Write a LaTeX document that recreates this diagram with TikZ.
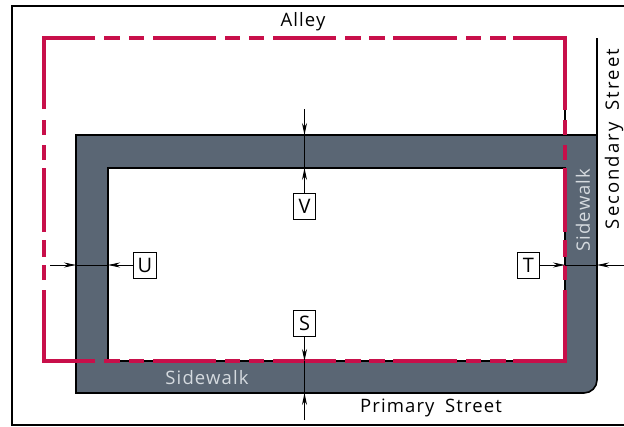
\documentclass[tikz,border=0pt]{standalone}
\usepackage{fontspec}
\setmainfont{Open Sans}[LetterSpace=6, WordSpace=1.8]
\usetikzlibrary{arrows.meta}
\definecolor{walkgray}{HTML}{5A6674}
\definecolor{linered}{HTML}{C80F4A}
\definecolor{walktext}{HTML}{D5DADF}
\tikzset{
  labelbox/.style={draw, line width=1pt, fill=white, minimum width=22.5pt, minimum height=26pt, inner sep=0pt, font=\fontsize{20}{20}\selectfont},
  outline/.style={line width=1.6pt},
  redline/.style={draw=linered, line width=3.8pt},
  dimline/.style={line width=0.9pt, >={Stealth[length=12pt,width=5pt]}},
  streetlabel/.style={font=\fontsize{18.5}{19}\selectfont},
}
\begin{document}
\begin{tikzpicture}[x=1pt, y=-1pt]
\useasboundingbox (0,0) rectangle (624,426);

% Frame
\draw[line width=1.8pt] (624,6) -- (12,6) -- (12,425) -- (624,425);

% Sidewalk
\fill[walkgray, rounded corners=13pt] (76,135) [sharp corners] -- (597,135) [rounded corners=13pt] -- (597,393) [sharp corners] -- (76,393) -- cycle;
\fill[white] (108,168) rectangle (565,361);
\draw[outline] (597,38) -- (597,135) [rounded corners=13pt] -- (597,393) [sharp corners] -- (76,393) -- (76,135) -- (597,135);
\draw[outline] (565,168) -- (108,168) -- (108,361) -- (565,361) -- cycle;
\draw[outline] (565,109) -- (565,121);

% Red line
\draw[redline, line join=miter] (95,38) -- (44,38) -- (44,109);
\draw[redline, line join=miter] (95,361) -- (44,361) -- (44,290);
\draw[redline, line join=miter] (513,38) -- (565,38) -- (565,110);
\draw[redline, line join=miter] (513,361) -- (565,361) -- (565,290);
\foreach \a/\b in {104/120, 129/144, 153/216, 225/240, 249/264, 273/336, 345/361, 369/385, 393/457, 466/481, 490/506} {
  \draw[redline] (\a,38) -- (\b,38);
  \draw[redline] (\a,361) -- (\b,361);
}
\foreach \a/\b in {120/135, 145/160, 168/232, 240/257, 265/280} {
  \draw[redline] (44,\a) -- (44,\b);
  \draw[redline] (565,\a) -- (565,\b);
}

% Labels
\node[labelbox] (V) at (304.5,206.5) {V};
\node[labelbox] (S) at (304.5,323) {S};
\node[labelbox] (U) at (145,265) {U};
\node[labelbox] (T) at (528.5,265) {T};
\node[streetlabel] (alley) at (303,22) {Alley};
\node[streetlabel] (primary) at (431,408) {Primary Street};
\node[streetlabel, rotate=90] (secondary) at (614,139) {\addfontfeature{LetterSpace=11}Secondary Street};
\node[streetlabel, text=walktext] (walkbottom) at (207,378) {Sidewalk};
\node[streetlabel, text=walktext, rotate=90] (walkright) at (583,210) {Sidewalk};

% Dimensions
\coordinate (vfree) at (304.5,109);
\coordinate (vouter) at (304.5,135);
\coordinate (vinner) at (304.5,168);
\coordinate (sfree) at (304.5,420);
\coordinate (souter) at (304.5,393);
\coordinate (sinner) at (304.5,361);
\coordinate (ufree) at (50,265);
\coordinate (uouter) at (76,265);
\coordinate (uinner) at (108,265);
\coordinate (tfree) at (624,265);
\coordinate (touter) at (597,265);
\coordinate (tinner) at (565,265);
\draw[dimline, ->] (vfree) -- (vouter);
\draw[dimline] (vouter) -- (vinner);
\draw[dimline, ->] (V) -- (vinner);
\draw[dimline, ->] (sfree) -- (souter);
\draw[dimline] (souter) -- (sinner);
\draw[dimline, ->] (S) -- (sinner);
\draw[dimline, ->] (ufree) -- (uouter);
\draw[dimline] (uouter) -- (uinner);
\draw[dimline, ->] (U) -- (uinner);
\draw[dimline, ->] (tfree) -- (touter);
\draw[dimline] (touter) -- (tinner);
\draw[dimline, ->] (T) -- (tinner);

\end{tikzpicture}
\end{document}
